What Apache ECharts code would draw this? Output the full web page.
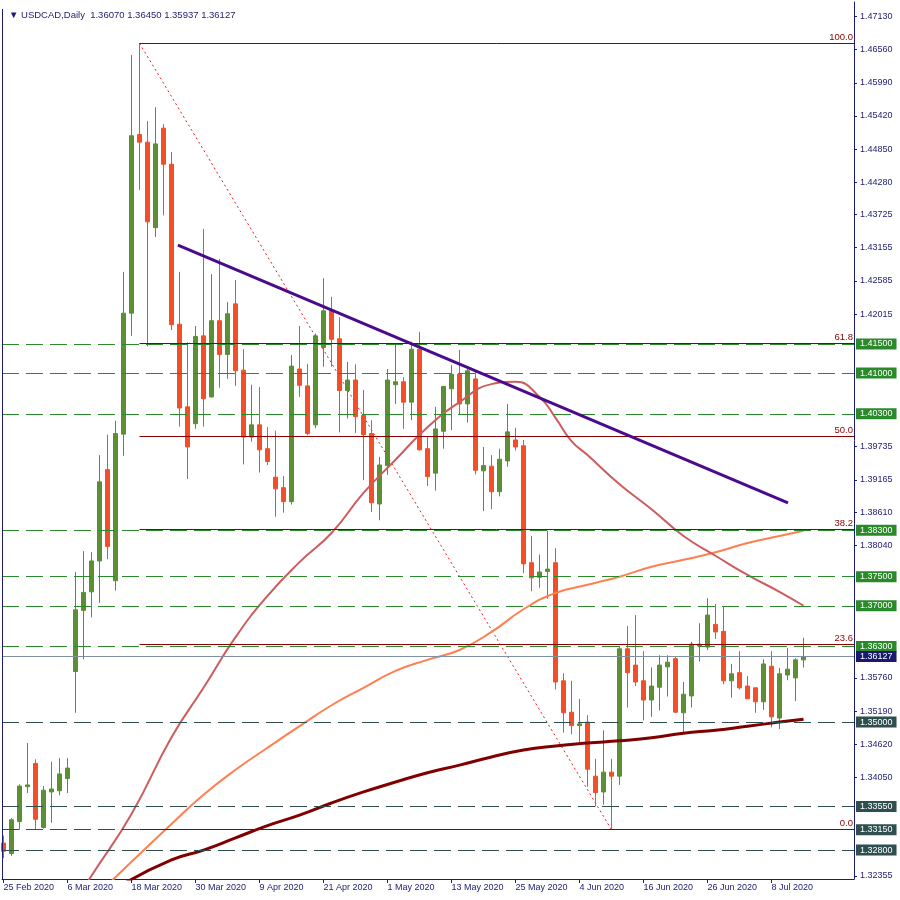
<!DOCTYPE html>
<html>
<head>
<meta charset="utf-8">
<script src="https://cdn.jsdelivr.net/npm/echarts@6/dist/echarts.min.js"></script>
<style>html,body{margin:0;padding:0;background:#fff}#c{width:900px;height:900px}</style>
</head>
<body>
<div id="c"></div>
<script>
// ---- data (USDCAD daily, 25 Feb 2020 .. 14 Jul 2020) ----
const tickDates = ['25 Feb 2020','6 Mar 2020','18 Mar 2020','30 Mar 2020','9 Apr 2020','21 Apr 2020','1 May 2020','13 May 2020','25 May 2020','4 Jun 2020','16 Jun 2020','26 Jun 2020','8 Jul 2020'];
const tickBars = [0,8,16,24,32,40,48,56,64,72,80,88,96];

const opens = [1.3292,1.3274,1.3329,1.3389,1.3429,1.3319,1.3380,1.3382,1.3403,1.3587,
1.3692,1.3724,1.3777,1.3934,1.3743,1.3995,1.4203,1.4510,1.4497,1.4350,
1.4521,1.4459,1.4184,1.4042,1.4013,1.4164,1.4059,1.4190,1.4132,1.4219,
1.4105,1.3990,1.4011,1.3970,1.3921,1.3903,1.3879,1.4107,1.4078,1.4011,
1.4144,1.4207,1.4159,1.4070,1.4088,1.4027,1.3996,1.3875,1.3941,1.4080,
1.4085,1.4050,1.4141,1.3970,1.3928,1.4000,1.4073,1.4098,1.4047,1.4090,
1.3932,1.3940,1.3896,1.3949,1.3985,1.3975,1.3774,1.3749,1.3759,1.3774,
1.3571,1.3517,1.3494,1.3500,1.3407,1.3380,1.3414,1.3407,1.3626,1.3598,
1.3571,1.3538,1.3560,1.3595,1.3609,1.3516,1.3545,1.3631,1.3629,1.3668,
1.3656,1.3571,1.3585,1.3562,1.3559,1.3535,1.3596,1.3507,1.3581,1.3576,1.36070];
const closes = [1.3278,1.3332,1.3390,1.3392,1.3333,1.3383,1.3385,1.3411,1.3421,1.3693,
1.3723,1.3777,1.3913,1.3802,1.3996,1.4203,1.4508,1.4497,1.4360,1.4494,
1.4459,1.4183,1.4040,1.3973,1.4163,1.4056,1.4190,1.4132,1.4202,1.4104,
1.3990,1.4011,1.3968,1.3948,1.3901,1.3879,1.4112,1.4079,1.3996,1.4164,
1.4207,1.4158,1.4070,1.4088,1.4025,1.3994,1.3877,1.3942,1.4088,1.4085,
1.4050,1.4141,1.3968,1.3922,1.4004,1.4077,1.4098,1.4047,1.4104,1.3933,
1.3941,1.3896,1.3952,1.3999,1.3973,1.3772,1.3748,1.3758,1.3763,1.3569,
1.3516,1.3494,1.3497,1.3419,1.3379,1.3414,1.3407,1.3626,1.3585,1.3569,
1.3538,1.3562,1.3598,1.3603,1.3517,1.3548,1.3634,1.3634,1.3684,1.3655,
1.3571,1.3583,1.3559,1.3540,1.3535,1.3600,1.3509,1.3583,1.3591,1.3607,1.36127];
const highs = [1.3305,1.3335,1.3393,1.3464,1.3436,1.3390,1.3432,1.3438,1.3438,1.3758,
1.3794,1.3792,1.3959,1.3994,1.4018,1.4274,1.4647,1.4667,1.4533,1.4557,
1.4528,1.4480,1.4274,1.4153,1.4181,1.4348,1.4270,1.4296,1.4222,1.4260,
1.4141,1.4080,1.4076,1.4007,1.4001,1.3923,1.4131,1.4181,1.4116,1.4168,
1.4263,1.4231,1.4196,1.4119,1.4115,1.4071,1.4019,1.3956,1.4107,1.4149,
1.4093,1.4154,1.4171,1.3991,1.4042,1.4078,1.4114,1.4140,1.4107,1.4105,
1.3973,1.3959,1.3970,1.4047,1.4006,1.3985,1.3820,1.3788,1.3829,1.3799,
1.3584,1.3571,1.3540,1.3512,1.3437,1.3486,1.3437,1.3631,1.3665,1.3684,
1.3622,1.3594,1.3615,1.3615,1.3612,1.3569,1.3638,1.3670,1.3713,1.3703,
1.3698,1.3600,1.3622,1.3579,1.3559,1.3608,1.3622,1.3593,1.3627,1.3610,1.36450];
const lows = [1.3266,1.3270,1.3315,1.3378,1.3315,1.3317,1.3327,1.3374,1.3378,1.3516,
1.3608,1.3680,1.3705,1.3780,1.3726,1.3958,1.4164,1.4415,1.4146,1.4334,
1.4371,1.4174,1.4008,1.3918,1.4004,1.4008,1.4058,1.4075,1.4090,1.4078,
1.3943,1.3982,1.3929,1.3942,1.3853,1.3860,1.3874,1.4059,1.3993,1.4005,
1.4111,1.4111,1.3998,1.4022,1.3997,1.3916,1.3861,1.3847,1.3925,1.4047,
1.4004,1.4019,1.3967,1.3906,1.3898,1.3970,1.4002,1.4028,1.4015,1.3926,
1.3863,1.3866,1.3888,1.3939,1.3967,1.3756,1.3725,1.3731,1.3712,1.3556,
1.3482,1.3479,1.3466,1.3389,1.3355,1.3358,1.3315,1.3392,1.3525,1.3562,
1.3503,1.3509,1.3520,1.3544,1.3516,1.3482,1.3525,1.3604,1.3624,1.3643,
1.3565,1.3542,1.3556,1.3540,1.3516,1.3521,1.3491,1.3488,1.3572,1.3536,1.35937];

// moving averages, read at sample bars
const maFastBars = [10,11,16,21,25,29,33,37,41,45,49,53,57,61,64,67,69,71,73,77,81,85,89,93,97,100];
const maFastVals = [1.3214,1.3236,1.3342,1.3474,1.3559,1.3646,1.3717,1.3775,1.3825,1.3894,1.3951,1.4007,1.4050,1.4081,1.4085,1.4059,1.4023,1.3983,1.3959,1.3909,1.3866,1.3820,1.3786,1.3753,1.3724,1.3700];
const maMidBars = [13,16,21,25,29,33,37,41,45,49,53,57,61,65,69,73,77,81,85,89,93,97,100];
const maMidVals = [1.3220,1.3260,1.3325,1.3375,1.3418,1.3456,1.3493,1.3529,1.3559,1.3588,1.3607,1.3624,1.3655,1.3694,1.3722,1.3736,1.3750,1.3767,1.3779,1.3792,1.3808,1.3820,1.3829];
const maSlowBars = [15,21,25,29,33,37,41,45,49,53,57,61,65,69,73,77,81,85,89,93,97,100];
const maSlowVals = [1.3222,1.3263,1.3280,1.3301,1.3322,1.3340,1.3361,1.3380,1.3397,1.3413,1.3426,1.3440,1.3452,1.3459,1.3464,1.3468,1.3473,1.3481,1.3486,1.3493,1.3500,1.3505];

// trend line & fibonacci
const trendBars = [21.8, 98.06];
const trendVals = [1.4320, 1.3877];
const fibBars = [17, 76];
const fibVals = [1.4667, 1.3315];
const fibLevels = [100.0, 61.8, 50.0, 38.2, 23.6, 0.0];

// horizontal levels
const greenLevels = [1.41500, 1.41000, 1.40300, 1.38300, 1.37500, 1.37000, 1.36300];
const slateLevels = [1.35000, 1.33550, 1.33150, 1.32800];
const lastPrice = 1.36127;

// price axis labels
const priceTicks = [1.47130,1.46560,1.45990,1.45420,1.44850,1.44280,1.43725,1.43155,1.42585,1.42015,
1.39735,1.39165,1.38610,1.38040,1.35760,1.35190,1.34620,1.34050,1.32355];

// ---- build ----
const X_MIN = -0.19, X_MAX = 106.31;
const Y_MIN = 1.32303, Y_MAX = 1.47379;
const NAVY = '#1c1c70';
const FONT = 'Liberation Sans';

const candleData = opens.map((o, i) => [i, o, closes[i], lows[i], highs[i]]);
const pairs = (b, v) => b.map((x, i) => [x, v[i]]);

const fibLow = fibVals[1], fibRange = fibVals[0] - fibVals[1];
const fibMark = fibLevels.map(l => {
  const v = fibLow + fibRange * l / 100;
  return [
    {coord: [fibBars[0], v], label: {formatter: l.toFixed(1)}},
    {coord: [X_MAX, v]}
  ];
});

const tagLabel = (bg) => ({
  show: true, position: 'end', distance: 2,
  formatter: p => Number(p.value).toFixed(5),
  backgroundColor: bg, color: '#ffffff', padding: [1, 4, 1, 4],
  fontFamily: FONT, fontSize: 9, lineHeight: 9
});
const levelMark = []
  .concat(greenLevels.map(v => ({yAxis: v, lineStyle: {color: '#2a8a2a', type: [17, 7], width: 1}, label: tagLabel('#2a8a2a')})))
  .concat(slateLevels.map(v => ({yAxis: v, lineStyle: {color: '#2f4f4f', type: [17, 7], width: 1}, label: tagLabel('#2f4f4f')})))
  .concat([{yAxis: lastPrice, lineStyle: {color: '#8090a0', type: 'solid', width: 1}, label: tagLabel('#191970')}]);

const chart = echarts.init(document.getElementById('c'), null, {renderer: 'canvas'});
chart.setOption({
  animation: false,
  backgroundColor: '#ffffff',
  title: {
    text: '▼ USDCAD,Daily  1.36070 1.36450 1.35937 1.36127',
    left: 4, top: 5,
    textStyle: {fontFamily: FONT, fontSize: 9.5, fontWeight: 'normal', color: NAVY}
  },
  grid: {left: 2, right: 46, top: 2, bottom: 21},
  graphic: [{
    type: 'line', silent: true, z: 10,
    shape: {x1: 2.5, y1: 9, x2: 2.5, y2: 879},
    style: {stroke: NAVY, lineWidth: 1}
  }],
  xAxis: {
    type: 'value', min: X_MIN, max: X_MAX,
    axisLine: {show: true, onZero: false, lineStyle: {color: NAVY, width: 1}},
    splitLine: {show: false},
    axisTick: {show: true, length: 4, customValues: tickBars, lineStyle: {color: NAVY}},
    axisLabel: {
      customValues: tickBars, align: 'left', margin: 4,
      fontFamily: FONT, fontSize: 9, color: NAVY,
      formatter: v => tickDates[tickBars.indexOf(Math.round(v))] || ''
    }
  },
  yAxis: {
    type: 'value', position: 'right', min: Y_MIN, max: Y_MAX, scale: true,
    axisLine: {show: true, onZero: false, lineStyle: {color: NAVY, width: 1}},
    splitLine: {show: false},
    axisTick: {show: true, inside: false, length: 3, customValues: priceTicks, lineStyle: {color: NAVY}},
    axisLabel: {
      customValues: priceTicks, margin: 6,
      fontFamily: FONT, fontSize: 9, color: NAVY,
      formatter: v => v.toFixed(5)
    }
  },
  series: [
    {
      name: 'levels', type: 'line', data: [], z: 1, silent: true,
      markLine: {symbol: ['none', 'none'], precision: 5, silent: true, animation: false, data: levelMark}
    },
    {
      name: 'fib', type: 'line', z: 2, silent: true,
      data: pairs(fibBars, fibVals), symbol: 'none',
      lineStyle: {color: '#ee1c1c', width: 1, type: [2, 3]},
      markLine: {
        symbol: ['none', 'none'], precision: 5, silent: true, animation: false,
        lineStyle: {color: '#8b0000', width: 1, type: 'solid'},
        label: {show: true, position: 'insideEndTop', distance: 1, color: '#8b0000', fontFamily: FONT, fontSize: 9.5, padding: 0},
        data: fibMark
      }
    },
    {
      name: 'USDCAD', type: 'candlestick', z: 3,
      data: candleData, encode: {x: 0, y: [1, 2, 3, 4]},
      barWidth: 5,
      itemStyle: {color: '#5b8f33', color0: '#f24e27', borderColor: '#5b8f33', borderColor0: '#f24e27', borderWidth: 1}
    },
    {
      name: 'MA slow', type: 'line', z: 4, smooth: true, symbol: 'none',
      data: pairs(maSlowBars, maSlowVals), lineStyle: {color: '#800000', width: 3}
    },
    {
      name: 'MA mid', type: 'line', z: 4, smooth: true, symbol: 'none',
      data: pairs(maMidBars, maMidVals), lineStyle: {color: '#ff7f50', width: 2}
    },
    {
      name: 'MA fast', type: 'line', z: 4, smooth: true, symbol: 'none',
      data: pairs(maFastBars, maFastVals), lineStyle: {color: '#cd5c5c', width: 2}
    },
    {
      name: 'trend', type: 'line', z: 5, symbol: 'none',
      data: pairs(trendBars, trendVals), lineStyle: {color: '#4b0a8c', width: 3}
    }
  ]
});
</script>
</body>
</html>
